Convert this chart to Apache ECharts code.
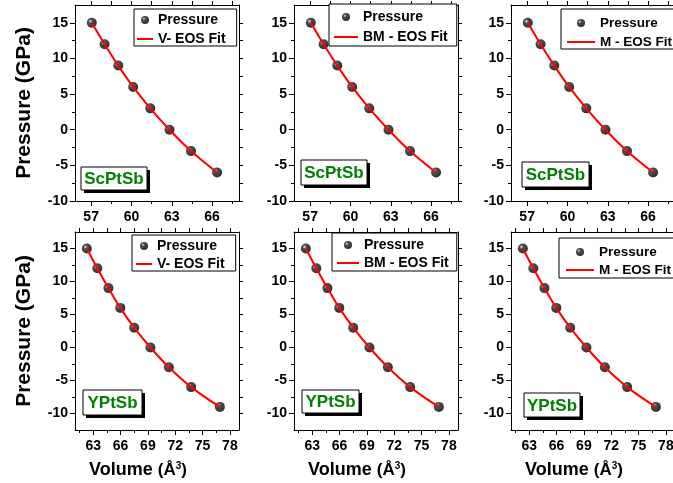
<!DOCTYPE html>
<html><head><meta charset="utf-8">
<script src="https://cdn.jsdelivr.net/npm/echarts@6/dist/echarts.min.js"></script>
<style>html,body{margin:0;padding:0;background:#fff}#c{width:673px;height:483px}</style>
</head><body><div id="c"></div><script>
// ---- data ----
const compounds = ['ScPtSb', 'YPtSb'];
const fitNames = ['V- EOS Fit', 'BM - EOS Fit', 'M - EOS Fit'];
const scVolume = [57.05, 58.0, 59.02, 60.13, 61.4, 62.83, 64.43, 66.37];
const scPressure = [15, 12, 9, 6, 3, 0, -3, -6];
const yVolume = [62.3, 63.45, 64.67, 65.97, 67.5, 69.28, 71.3, 73.75, 76.9];
const yPressure = [15, 12, 9, 6, 3, 0, -3, -6, -9];
const topXTicks = [57, 60, 63, 66];
const topXMinor = [58.5, 61.5, 64.5, 67.5];
const botXTicks = [63, 66, 69, 72, 75, 78];
const botXMinor = [61.5, 64.5, 67.5, 70.5, 73.5, 76.5];
const yTicks = [-10, -5, 0, 5, 10, 15];
const yMinor = [-7.5, -2.5, 2.5, 7.5, 12.5];

const FONT = 'Arial, "Liberation Sans", sans-serif';
const colLeft = [75, 294, 511];
const rows = [{top: 5, height: 196}, {top: 232, height: 198}];
const xRange = [[55.8, 68], [61, 79]];
const yRange = [[-10, 17.5], [-12.5, 17.5]];
const volumes = [scVolume, yVolume];
const pressures = [scPressure, yPressure];
const xMajor = [topXTicks, botXTicks];
const xMinor = [topXMinor, botXMinor];

const legendCfg = [
  {left: 134, top: 9, iw: 16, pad: [4, 11, 0, 3], gap: 5, fs: 14},
  {left: 329, top: 4, iw: 24, pad: [6, 9, 2, 5], gap: 6, fs: 14},
  {left: 561, top: 9, iw: 28, pad: [7, 5, 0, 6], gap: 5, fs: 13.5},
  {left: 132, top: 235, iw: 16, pad: [4, 11, 0, 4], gap: 4, fs: 14},
  {left: 332, top: 233, iw: 22, pad: [5, 8, 1, 5], gap: 4, fs: 14},
  {left: 559, top: 238, iw: 28, pad: [7, 5, 1, 7], gap: 4, fs: 13.5}
];
const tagBoxes = [
  [81, 167, 66, 23], [301, 160, 66, 25], [522, 162, 67, 25],
  [83, 390, 59, 25], [302, 390, 57, 23], [524, 393, 56, 24]
];

const sphere = {type: 'radial', x: 0.36, y: 0.34, r: 0.62,
  colorStops: [{offset: 0, color: '#ffffff'}, {offset: 0.12, color: '#9a9a9a'}, {offset: 0.32, color: '#222'}, {offset: 1, color: '#000'}]};

const grid = [], xAxis = [], yAxis = [], series = [], legend = [], graphic = [];
const black = {color: '#000', width: 1};
const labelStyle = {color: '#000', fontWeight: 'bold', fontSize: 14, fontFamily: FONT};

for (let r = 0; r < 2; r++) {
  for (let c = 0; c < 3; c++) {
    const gi = r * 3 + c;
    grid.push({left: colLeft[c], top: rows[r].top, width: 164, height: rows[r].height, outerBoundsMode: 'none', containLabel: false});
    const xm = xRange[r], ym = yRange[r];
    const xMain = {gridIndex: gi, type: 'value', min: xm[0], max: xm[1], position: 'bottom',
      axisLine: {show: true, onZero: false, lineStyle: black},
      axisTick: {show: true, inside: false, length: 5, customValues: xMajor[r], lineStyle: black},
      axisLabel: {show: true, customValues: xMajor[r], margin: 9, ...labelStyle},
      splitLine: {show: false}};
    if (r === 1) {
      xMain.name = '{v|Volume }{u|(Å}{s|3}{u|)}';
      xMain.nameLocation = 'middle';
      xMain.nameGap = 31;
      xMain.nameTextStyle = {padding: [0, 38, 0, 0], rich: {
        v: {fontSize: 18, fontWeight: 'bold', fontFamily: FONT, color: '#000'},
        u: {fontSize: 17, fontWeight: 'bold', fontFamily: FONT, color: '#000'},
        s: {fontSize: 10, fontWeight: 'bold', fontFamily: FONT, color: '#000', verticalAlign: 'top', padding: [0, 0, 8, 0]}
      }};
    }
    xAxis.push(xMain);
    xAxis.push({gridIndex: gi, type: 'value', min: xm[0], max: xm[1], position: 'bottom',
      axisLine: {show: false, onZero: false}, axisLabel: {show: false},
      axisTick: {show: true, inside: false, length: 3, customValues: xMinor[r], lineStyle: black},
      splitLine: {show: false}});
    xAxis.push({gridIndex: gi, type: 'value', min: xm[0], max: xm[1], position: 'top',
      axisLine: {show: true, onZero: false, lineStyle: black}, axisLabel: {show: false},
      axisTick: {show: true, inside: false, length: 4, customValues: xMajor[r].concat(xMinor[r]), lineStyle: black},
      splitLine: {show: false}});
    const yMain = {gridIndex: gi, type: 'value', min: ym[0], max: ym[1], position: 'left',
      axisLine: {show: true, onZero: false, lineStyle: black},
      axisTick: {show: true, inside: false, length: 5, customValues: yTicks, lineStyle: black},
      axisLabel: {show: true, customValues: yTicks, margin: 7, ...labelStyle},
      splitLine: {show: false}};
    if (c === 0) {
      yMain.name = 'Pressure (GPa)';
      yMain.nameLocation = 'middle';
      yMain.nameGap = 40;
      yMain.nameTextStyle = {fontSize: 21, fontWeight: 'bold', fontFamily: FONT, color: '#000'};
    }
    yAxis.push(yMain);
    yAxis.push({gridIndex: gi, type: 'value', min: ym[0], max: ym[1], position: 'left',
      axisLine: {show: false, onZero: false}, axisLabel: {show: false},
      axisTick: {show: true, inside: false, length: 3, customValues: yMinor, lineStyle: black},
      splitLine: {show: false}});
    yAxis.push({gridIndex: gi, type: 'value', min: ym[0], max: ym[1], position: 'right',
      axisLine: {show: true, onZero: false, lineStyle: black}, axisLabel: {show: false},
      axisTick: {show: true, inside: false, length: 4, customValues: yTicks.concat(yMinor), lineStyle: black},
      splitLine: {show: false}});

    const pts = volumes[r].map((v, k) => [v, pressures[r][k]]);
    series.push({type: 'scatter', name: 'Pressure', xAxisIndex: gi * 3, yAxisIndex: gi * 3,
      data: pts, symbol: 'circle', symbolSize: 10, itemStyle: {color: sphere}, z: 2});
    series.push({type: 'line', name: fitNames[c], xAxisIndex: gi * 3, yAxisIndex: gi * 3,
      data: pts, smooth: 0.4, symbol: 'none', showSymbol: false,
      lineStyle: {color: '#ff0000', width: 2}, itemStyle: {color: '#ff0000'}, z: 3});

    const L = legendCfg[gi];
    legend.push({left: L.left, top: L.top, orient: 'vertical', padding: L.pad, itemGap: L.gap,
      itemWidth: L.iw, itemHeight: 8, borderColor: '#000', borderWidth: 1, backgroundColor: '#fff',
      selectedMode: false,
      data: ['Pressure', {name: fitNames[c], icon: 'path://M0,0H' + L.iw + 'V2H0Z', itemStyle: {color: '#ff0000'}}],
      textStyle: {fontSize: L.fs, fontWeight: 'bold', color: '#000', fontFamily: FONT}});

    const b = tagBoxes[gi];
    graphic.push({type: 'rect', shape: {x: b[0] + 3, y: b[1] + 3, width: b[2], height: b[3]}, style: {fill: '#000'}, z: 100});
    graphic.push({type: 'rect', shape: {x: b[0], y: b[1], width: b[2], height: b[3]}, style: {fill: '#fff', stroke: '#000', lineWidth: 1}, z: 101});
    graphic.push({type: 'text', x: b[0] + b[2] / 2, y: b[1] + b[3] / 2 + 1, z: 102,
      style: {text: compounds[r], fill: '#008000', fontSize: 17, fontWeight: 'bold', fontFamily: FONT, align: 'center', verticalAlign: 'middle'}});
  }
}

const chart = echarts.init(document.getElementById('c'), null, {renderer: 'canvas'});
chart.setOption({animation: false, backgroundColor: '#fff', grid, xAxis, yAxis, series, legend, graphic});
</script></body></html>
